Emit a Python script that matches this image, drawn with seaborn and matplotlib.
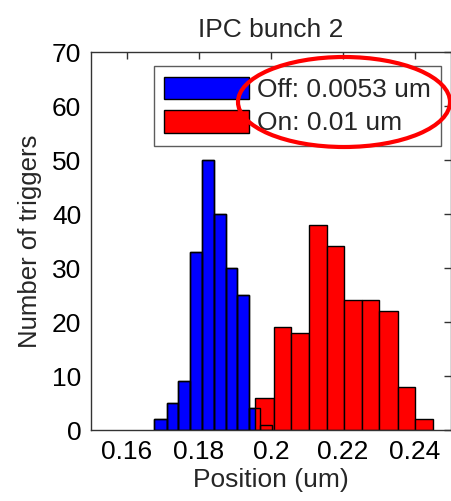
import matplotlib
matplotlib.use("Agg")
import matplotlib.pyplot as plt
from matplotlib.patches import Ellipse, Patch
import seaborn as sns
import numpy as np

# ---- data ----
blue_edges = [0.1676, 0.1711, 0.1743, 0.1776, 0.1808, 0.1841, 0.1875, 0.1906, 0.1939, 0.1970, 0.2003]
blue_counts = [2, 5, 9, 33, 50, 40, 30, 25, 4, 1]
red_edges = [0.1956, 0.2007, 0.2056, 0.2106, 0.2155, 0.2202, 0.2253, 0.2301, 0.2352, 0.2400, 0.2451]
red_counts = [6, 19, 18, 38, 34, 24, 24, 22, 8, 2]
legend_labels = ["Off: 0.0053 um", "On: 0.01 um"]
x_ticks = [0.16, 0.18, 0.20, 0.22, 0.24]
x_tick_labels = ["0.16", "0.18", "0.2", "0.22", "0.24"]
y_ticks = [0, 10, 20, 30, 40, 50, 60, 70]
title = "IPC bunch 2"
xlabel = "Position (um)"
ylabel = "Number of triggers"

sns.set_style("white")
plt.rcParams['font.family'] = ['Liberation Sans', 'DejaVu Sans']

W, H = 452, 501
fig = plt.figure(figsize=(W / 100, H / 100), dpi=100)
ax = fig.add_axes([91 / W, 1 - 430 / H, (451 - 91) / W, (430 - 52) / H])

def centers(edges):
    e = np.asarray(edges)
    return (e[:-1] + e[1:]) / 2

sns.histplot(x=centers(blue_edges), weights=blue_counts, bins=blue_edges,
             color="#0000ff", edgecolor="black", linewidth=1.0, alpha=1, ax=ax, zorder=1)
sns.histplot(x=centers(red_edges), weights=red_counts, bins=red_edges,
             color="#ff0000", edgecolor="black", linewidth=1.0, alpha=1, ax=ax, zorder=2)
sns.histplot(x=centers(blue_edges), weights=blue_counts, bins=blue_edges,
             fill=False, color="black", linewidth=1.0, ax=ax, zorder=3)

ax.set_xlim(0.15, 0.25)
ax.set_ylim(0, 70)
ax.set_xticks(x_ticks)
ax.set_xticklabels(x_tick_labels)
ax.set_yticks(y_ticks)
ax.tick_params(direction="in", top=True, right=True, length=5, width=1,
               labelsize=19, colors="#333333", labelcolor="black", pad=7)
for s in ax.spines.values():
    s.set_color("#333333")
    s.set_linewidth(1)
ax.set_xlabel(xlabel, fontsize=19, labelpad=3)
ax.set_ylabel(ylabel, fontsize=18.5, labelpad=7)
ax.set_title(title, fontsize=19, pad=11)

handles = [Patch(facecolor="#0000ff", edgecolor="black"),
           Patch(facecolor="#ff0000", edgecolor="black")]
leg = ax.legend(handles, legend_labels, loc="upper right", fontsize=19,
                handlelength=3.2, handleheight=0.95, frameon=True, fancybox=False,
                labelspacing=0.3, handletextpad=0.3, borderpad=0.4, borderaxespad=0,
                bbox_to_anchor=(441 / W, 1 - 66 / H), bbox_transform=fig.transFigure)
leg.get_frame().set_edgecolor("#333333")
leg.get_frame().set_linewidth(1)

ell = Ellipse((344 / W, 1 - 102 / H), 212 / W, 90 / H,
              transform=fig.transFigure, fill=False, edgecolor="#ff0000",
              linewidth=3.0, zorder=10, clip_on=False)
fig.patches.append(ell)

fig.savefig("out.png", dpi=100)
